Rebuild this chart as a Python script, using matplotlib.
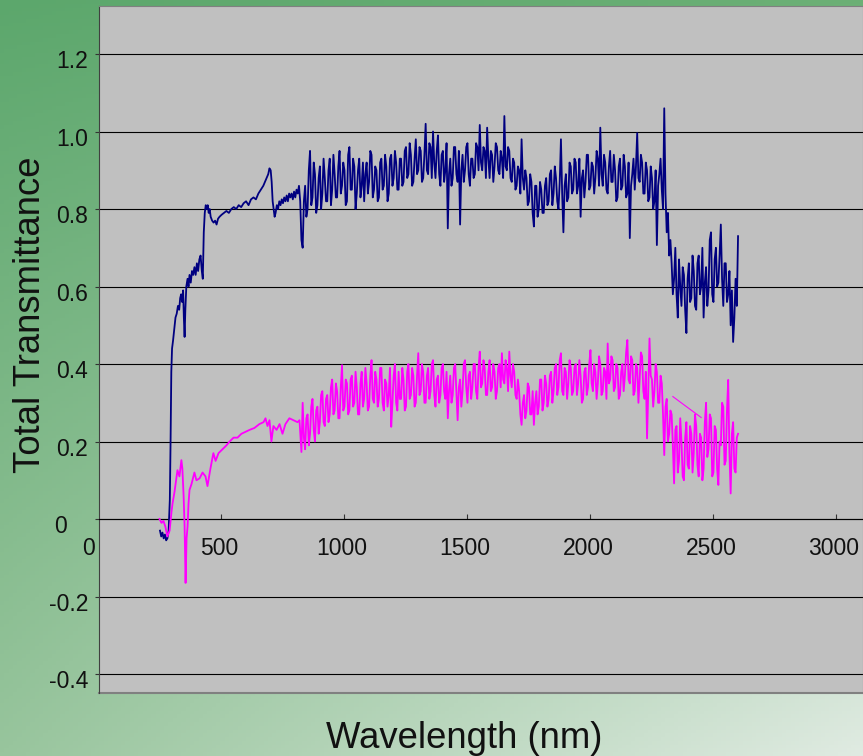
import numpy as np
import matplotlib
matplotlib.use("Agg")
import matplotlib.pyplot as plt

plt.rcParams['font.family'] = ['Liberation Sans', 'DejaVu Sans']

# ---- data ---------------------------------------------------------------
# UV / visible part (hand-picked points, nm)
blue_uv_wl = [250, 255, 260, 265, 270, 275, 280, 285, 290, 293, 296, 299, 303, 308,
              313, 318, 323, 328, 332, 336, 340, 344, 347, 350, 353, 357, 362, 366,
              370, 375, 380, 385, 390, 395, 400, 405, 410, 415, 420, 424, 428, 432,
              436, 440, 444, 448, 452, 456, 462, 468, 474, 480, 486, 492, 500, 510,
              520, 530, 540, 550, 560, 570, 580, 590, 600, 610, 620, 630, 640, 650,
              660, 670, 680, 690, 695, 700, 704, 708, 712, 716, 720, 725, 730, 735,
              740, 745, 750, 755, 760, 765, 770, 775, 780, 785, 790, 795, 800, 805,
              810, 815, 820, 825]
blue_uv = [-0.03, -0.045, -0.035, -0.05, -0.04, -0.055, -0.05, -0.03, 0.05, 0.20, 0.38,
           0.44, 0.46, 0.49, 0.52, 0.53, 0.55, 0.54, 0.57, 0.58, 0.56, 0.59, 0.52, 0.47,
           0.54, 0.60, 0.62, 0.60, 0.63, 0.61, 0.64, 0.63, 0.65, 0.63, 0.66, 0.64, 0.67,
           0.68, 0.64, 0.62, 0.74, 0.79, 0.81, 0.80, 0.81, 0.79, 0.80, 0.78, 0.77, 0.765,
           0.77, 0.76, 0.775, 0.78, 0.785, 0.79, 0.795, 0.79, 0.80, 0.805, 0.80, 0.81,
           0.805, 0.815, 0.82, 0.81, 0.825, 0.83, 0.825, 0.84, 0.85, 0.86, 0.875, 0.89,
           0.905, 0.90, 0.87, 0.82, 0.80, 0.78, 0.79, 0.81, 0.80, 0.82, 0.81, 0.825,
           0.815, 0.83, 0.82, 0.835, 0.82, 0.84, 0.83, 0.84, 0.825, 0.845, 0.83, 0.85,
           0.84, 0.86, 0.82, 0.72]

pink_uv_wl = [248, 256, 264, 272, 280, 289, 297, 301, 309, 321, 329, 337, 341, 346,
              350, 354, 358, 362, 366, 370, 378, 390, 398, 411, 423, 435, 443, 455,
              467, 476, 488, 504, 520, 533, 549, 565, 581, 598, 614, 634, 654, 671,
              679, 687, 695, 703, 711, 724, 736, 748, 760, 776, 793, 809, 817, 825]
pink_uv = [0.0, -0.01, -0.005, -0.02, -0.045, -0.03, 0.02, 0.04, 0.07, 0.126, 0.11,
           0.152, 0.13, 0.06, -0.02, -0.165, -0.05, -0.02, 0.04, 0.075, 0.09, 0.12,
           0.10, 0.105, 0.12, 0.11, 0.085, 0.13, 0.17, 0.15, 0.17, 0.18, 0.19, 0.20,
           0.21, 0.21, 0.22, 0.225, 0.23, 0.235, 0.245, 0.25, 0.26, 0.24, 0.255, 0.20,
           0.24, 0.23, 0.245, 0.22, 0.245, 0.26, 0.255, 0.25, 0.255, 0.173]

# near-infrared part, one reading every 5 nm from 830 to 2600 nm (rows of 100 nm)
nir_wl = np.arange(830, 2601, 5)
blue_nir = [
    0.70, 0.82, 0.86, 0.78, 0.80, 0.90, 0.95, 0.81, 0.83, 0.92, 0.89, 0.79, 0.81, 0.88, 0.91, 0.80, 0.84, 0.93, 0.88, 0.82,
    0.82, 0.90, 0.93, 0.81, 0.85, 0.94, 0.89, 0.83, 0.83, 0.91, 0.95, 0.84, 0.86, 0.92, 0.90, 0.81, 0.82, 0.94, 0.96, 0.85,
    0.85, 0.93, 0.91, 0.80, 0.84, 0.90, 0.93, 0.83, 0.86, 0.92, 0.82, 0.89, 0.92, 0.84, 0.87, 0.95, 0.94, 0.83, 0.85, 0.91,
    0.90, 0.82, 0.83, 0.92, 0.93, 0.85, 0.86, 0.94, 0.91, 0.82, 0.84, 0.93, 0.94, 0.86, 0.88, 0.95, 0.92, 0.85, 0.85, 0.93,
    0.93, 0.86, 0.87, 0.95, 0.96, 0.88, 0.89, 0.97, 0.94, 0.86, 0.87, 0.93, 0.98, 0.89, 0.90, 0.96, 0.95, 0.87, 0.88, 0.94,
    1.02, 0.90, 0.89, 0.97, 0.96, 0.88, 1.00, 0.92, 0.88, 0.95, 0.99, 0.89, 0.86, 0.94, 0.95, 0.87, 0.90, 0.97, 0.75, 0.89,
    0.93, 0.86, 0.88, 0.96, 0.96, 0.89, 0.87, 0.95, 0.76, 0.90, 0.94, 0.87, 0.90, 0.96, 0.97, 0.89, 0.86, 0.93, 0.93, 0.88,
    0.89, 0.97, 0.96, 0.90, 1.017, 0.92, 0.90, 0.96, 0.95, 0.88, 1.01, 0.93, 0.88, 0.95, 0.94, 0.87, 0.91, 0.97, 0.96, 0.90,
    0.89, 0.95, 0.93, 0.88, 1.04, 0.91, 0.90, 0.96, 0.95, 0.88, 0.87, 0.93, 0.92, 0.85, 0.86, 0.91, 0.90, 0.84, 0.98, 0.88,
    0.85, 0.90, 0.88, 0.81, 0.82, 0.89, 0.87, 0.79, 0.755, 0.86, 0.86, 0.78, 0.80, 0.87, 0.85, 0.79, 0.79, 0.86, 0.88, 0.81,
    0.82, 0.89, 0.90, 0.81, 0.84, 0.91, 0.88, 0.82, 0.80, 0.87, 0.98, 0.84, 0.74, 0.86, 0.89, 0.82, 0.83, 0.92, 0.91, 0.84,
    0.85, 0.93, 0.92, 0.84, 0.86, 0.93, 0.78, 0.88, 0.90, 0.83, 0.87, 0.94, 0.94, 0.85, 0.86, 0.92, 0.91, 0.84, 0.88, 0.95,
    0.93, 0.86, 1.01, 0.89, 0.86, 0.94, 0.92, 0.85, 0.84, 0.91, 0.95, 0.87, 0.87, 0.94, 0.90, 0.82, 0.83, 0.91, 0.93, 0.85,
    0.86, 0.94, 0.91, 0.83, 0.84, 0.92, 0.725, 0.86, 0.89, 0.93, 0.85, 0.91, 0.996, 0.88, 0.87, 0.94, 0.92, 0.84, 0.84, 0.92,
    0.90, 0.82, 0.83, 0.91, 0.88, 0.80, 0.82, 0.90, 0.707, 0.86, 0.89, 0.93, 0.85, 0.80, 1.06, 0.84, 0.74, 0.79, 0.68, 0.72,
    0.66, 0.58, 0.62, 0.70, 0.58, 0.52, 0.67, 0.60, 0.55, 0.65, 0.63, 0.54, 0.48, 0.62, 0.66, 0.56, 0.57, 0.68, 0.64, 0.55,
    0.54, 0.66, 0.68, 0.58, 0.60, 0.70, 0.52, 0.61, 0.65, 0.55, 0.59, 0.72, 0.74, 0.58, 0.56, 0.67, 0.70, 0.60, 0.61, 0.68,
    0.76, 0.62, 0.55, 0.66, 0.66, 0.56, 0.58, 0.64, 0.50, 0.59, 0.457, 0.52, 0.62, 0.55, 0.73]
pink_nir = [
    0.30, 0.21, 0.18, 0.26, 0.27, 0.19, 0.22, 0.29, 0.31, 0.23, 0.20, 0.28, 0.29, 0.22, 0.25, 0.32, 0.33, 0.25, 0.24, 0.31,
    0.32, 0.25, 0.27, 0.34, 0.36, 0.27, 0.28, 0.35, 0.33, 0.26, 0.26, 0.34, 0.397, 0.28, 0.29, 0.36, 0.35, 0.27, 0.28, 0.36,
    0.37, 0.29, 0.30, 0.38, 0.34, 0.27, 0.27, 0.35, 0.38, 0.29, 0.31, 0.39, 0.35, 0.28, 0.29, 0.37, 0.41, 0.31, 0.30, 0.38,
    0.36, 0.29, 0.31, 0.39, 0.39, 0.30, 0.28, 0.36, 0.35, 0.29, 0.32, 0.39, 0.238, 0.30, 0.37, 0.40, 0.30, 0.28, 0.38, 0.31,
    0.31, 0.39, 0.36, 0.28, 0.29, 0.38, 0.40, 0.31, 0.32, 0.39, 0.37, 0.29, 0.30, 0.37, 0.428, 0.32, 0.33, 0.40, 0.38, 0.30,
    0.30, 0.37, 0.39, 0.31, 0.33, 0.40, 0.41, 0.32, 0.29, 0.36, 0.37, 0.30, 0.32, 0.39, 0.40, 0.33, 0.31, 0.38, 0.26, 0.33,
    0.37, 0.30, 0.32, 0.39, 0.40, 0.33, 0.255, 0.34, 0.36, 0.29, 0.33, 0.40, 0.41, 0.34, 0.30, 0.37, 0.38, 0.31, 0.34, 0.40,
    0.40, 0.33, 0.31, 0.39, 0.432, 0.34, 0.35, 0.41, 0.39, 0.32, 0.32, 0.38, 0.41, 0.33, 0.34, 0.40, 0.38, 0.31, 0.33, 0.39,
    0.40, 0.34, 0.428, 0.36, 0.35, 0.41, 0.39, 0.33, 0.432, 0.37, 0.34, 0.40, 0.38, 0.32, 0.31, 0.36, 0.33, 0.27, 0.243, 0.30,
    0.32, 0.26, 0.28, 0.35, 0.34, 0.27, 0.27, 0.33, 0.243, 0.30, 0.33, 0.27, 0.29, 0.36, 0.36, 0.28, 0.30, 0.37, 0.35, 0.29,
    0.31, 0.37, 0.38, 0.30, 0.33, 0.39, 0.40, 0.32, 0.34, 0.41, 0.428, 0.33, 0.32, 0.39, 0.38, 0.31, 0.35, 0.41, 0.39, 0.32,
    0.33, 0.39, 0.40, 0.32, 0.35, 0.41, 0.37, 0.30, 0.31, 0.38, 0.39, 0.32, 0.34, 0.40, 0.436, 0.35, 0.33, 0.40, 0.38, 0.31,
    0.35, 0.42, 0.40, 0.32, 0.33, 0.39, 0.38, 0.31, 0.453, 0.35, 0.36, 0.42, 0.41, 0.33, 0.34, 0.40, 0.39, 0.31, 0.32, 0.38,
    0.40, 0.33, 0.37, 0.43, 0.462, 0.36, 0.35, 0.42, 0.41, 0.32, 0.33, 0.40, 0.39, 0.30, 0.36, 0.43, 0.42, 0.33, 0.31, 0.38,
    0.208, 0.33, 0.466, 0.37, 0.36, 0.29, 0.33, 0.40, 0.38, 0.30, 0.30, 0.37, 0.35, 0.27, 0.165, 0.29, 0.31, 0.20, 0.22, 0.28,
    0.27, 0.19, 0.092, 0.23, 0.24, 0.12, 0.15, 0.26, 0.20, 0.11, 0.10, 0.21, 0.25, 0.14, 0.13, 0.24, 0.22, 0.12, 0.17, 0.27,
    0.24, 0.14, 0.11, 0.22, 0.21, 0.10, 0.13, 0.25, 0.30, 0.16, 0.18, 0.27, 0.26, 0.11, 0.12, 0.24, 0.23, 0.13, 0.088, 0.20,
    0.19, 0.30, 0.29, 0.14, 0.15, 0.28, 0.359, 0.17, 0.066, 0.22, 0.25, 0.13, 0.12, 0.21, 0.22]

# stray straight segment in the pink trace (two overlapping scans)
pink_seam_wl = [2335, 2450]
pink_seam = [0.316, 0.262]

y_ticks = [-0.4, -0.2, 0, 0.2, 0.4, 0.6, 0.8, 1.0, 1.2]
y_labels = ['-0.4', '-0.2', '0', '0.2', '0.4', '0.6', '0.8', '1.0', '1.2']
x_ticks = [0, 500, 1000, 1500, 2000, 2500, 3000]

# ---- figure --------------------------------------------------------------
W, H = 863, 756
fig = plt.figure(figsize=(W / 100, H / 100), dpi=100)

# green gradient background
bg = fig.add_axes([0, 0, 1, 1], zorder=-10)
gy, gx = np.mgrid[0:1:200j, 0:1:200j]
tl = np.array([92, 167, 108]) / 255
tr = np.array([108, 176, 118]) / 255
bl = np.array([152, 197, 157]) / 255
br = np.array([224, 235, 226]) / 255
grad = ((1 - gx)[..., None] * (1 - gy)[..., None] * tl + gx[..., None] * (1 - gy)[..., None] * tr
        + (1 - gx)[..., None] * gy[..., None] * bl + gx[..., None] * gy[..., None] * br)
bg.imshow(grad, aspect='auto', extent=[0, 1, 0, 1], origin='upper')
bg.axis('off')

left = 98.5 / W
bottom = (H - 693) / H
ax = fig.add_axes([left, bottom, 1 - left, (693 - 6) / H])
ax.set_facecolor('#c0c0c0')

ax.plot(blue_uv_wl + list(nir_wl), blue_uv + blue_nir, color='#000080', lw=1.3, zorder=3)
ax.plot(pink_uv_wl + list(nir_wl), pink_uv + pink_nir, color='#ff00ff', lw=1.3, zorder=3)
ax.plot(pink_seam_wl, pink_seam, color='#ff00ff', lw=0.8, zorder=3)

ax.set_xlim(0, 3108)
ax.set_ylim(-0.449, 1.324)

ax.set_yticks(y_ticks)
ax.set_yticklabels([])
ax.yaxis.grid(True, color='black', lw=0.8)
ax.set_axisbelow(True)
ax.tick_params(axis='y', direction='out', length=3, width=0.8, color='#333333')

ax.spines['bottom'].set_position(('data', 0))
ax.spines['bottom'].set_color('black')
ax.spines['bottom'].set_linewidth(0.8)
ax.set_xticks(x_ticks[1:])
ax.set_xticklabels([])
ax.tick_params(axis='x', direction='in', length=3.5, width=0.8, color='#333333')

for s in ['top', 'right']:
    ax.spines[s].set_color('#808080')
ax.spines['left'].set_color('#404040')
ax.plot([0, 1], [0, 0], transform=ax.transAxes, color='#808080', lw=1.5, clip_on=False)

# Excel-style tick labels
for v, lab in zip(y_ticks, y_labels):
    dx = -22.7 if lab == '0' else -7.4
    ax.annotate(lab, xy=(0, v), xycoords=('axes fraction', 'data'),
                xytext=(dx, -5.5), textcoords='offset points',
                ha='right', va='center', fontsize=16.5, color='#111111')
for v in x_ticks:
    dx = -7.3 if v == 0 else -1.8
    ax.annotate(str(v), xy=(v, 0), xycoords='data',
                xytext=(dx, -12.9), textcoords='offset points',
                ha='center', va='top', fontsize=16.5, color='#111111',
                annotation_clip=False)

fig.text(464 / W, 1 - 739 / H, 'Wavelength (nm)', ha='center', va='center',
         fontsize=26.3, color='#111111')
fig.text(31 / W, 1 - 315 / H, 'Total Transmittance', ha='center', va='center',
         rotation=90, fontsize=26.3, color='#111111')

fig.savefig('out.png', dpi=100)
